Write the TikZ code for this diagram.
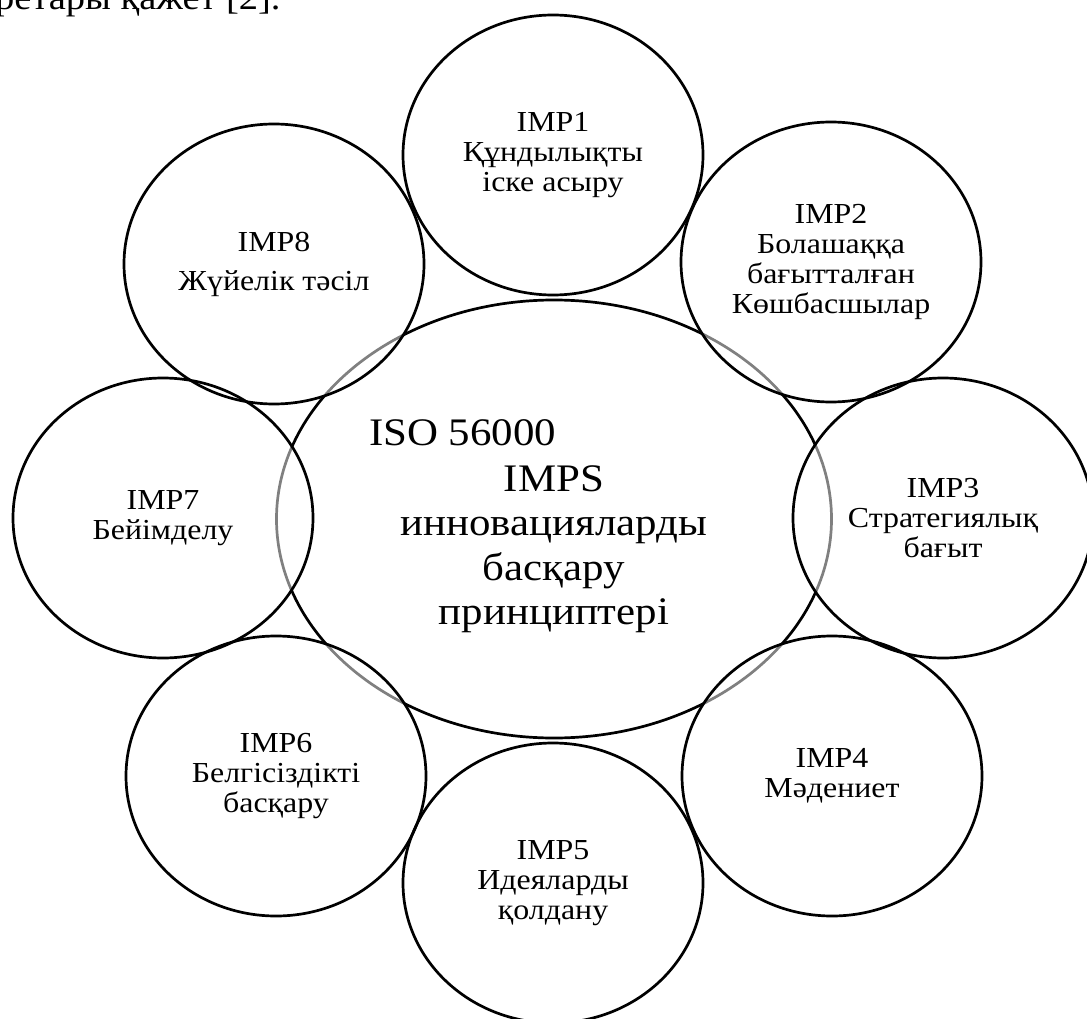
\documentclass[tikz,border=0pt]{standalone}
\usepackage{fontspec}
\setmainfont{Liberation Serif}[FakeStretch=1.1]
\usetikzlibrary{shapes.geometric}
\begin{document}
\begin{tikzpicture}[x=1pt,y=-1pt,
  ring/.style={ellipse, draw=black, line width=2.7pt, minimum width=300pt, minimum height=280pt, inner sep=0pt, align=center, font=\fontsize{29}{30}\selectfont},
  ringfill/.style={fill=white, fill opacity=0.5},
  core/.style={ellipse, draw=black, line width=2.7pt, minimum width=555pt, minimum height=438pt, inner sep=0pt},
  coretxt/.style={align=center, font=\fontsize{39}{44.5}\selectfont, inner sep=0pt},
  bodytxt/.style={font=\fontsize{35}{40}\selectfont, inner sep=0pt},
  ]
\useasboundingbox (0,0) rectangle (1087,1019);
\clip (0,0) rectangle (1087,1019);
\fill[white] (0,0) rectangle (1087,1019);
% partial paragraph line at the top
\node[bodytxt, anchor=base west] (topline) at (-5,10) {ретары қажет [2].};
% centres of the eight principle circles
\coordinate (c1) at (553,155);
\coordinate (c2) at (831,262);
\coordinate (c3) at (943,518);
\coordinate (c4) at (832,776);
\coordinate (c5) at (553,883);
\coordinate (c6) at (276,776);
\coordinate (c7) at (163,518);
\coordinate (c8) at (274,264);
% central ellipse
\node[core] (core) at (554,519) {};
% half-transparent white fills of the circles
\foreach \c in {c1,c2,c3,c4,c5,c6,c7,c8}
  \fill[ringfill] (\c) ellipse [x radius=150, y radius=140];
% circles with their texts
\node[ring] (imp1) at (c1) {IMP1\\Құндылықты\\іске асыру};
\node[ring] (imp2) at (c2) {IMP2\\Болашаққа\\бағытталған\\Көшбасшылар};
\node[ring] (imp3) at (c3) {IMP3\\Стратегиялық\\бағыт};
\node[ring] (imp4) at (c4) {IMP4\\Мәдениет};
\node[ring] (imp5) at (c5) {IMP5\\Идеяларды\\қолдану};
\node[ring] (imp6) at (c6) {IMP6\\Белгісіздікті\\басқару};
\node[ring] (imp7) at (c7) {IMP7\\Бейімделу};
\node[ring] (imp8) at (c8) {IMP8\\[9pt]Жүйелік тәсіл};
% central text
\node[coretxt, anchor=base west] (iso) at (369,445) {ISO 56000};
\node[coretxt, anchor=north] (imps) at (554,465) {IMPS\\инновацияларды\\басқару\\принциптері};
\end{tikzpicture}
\end{document}
